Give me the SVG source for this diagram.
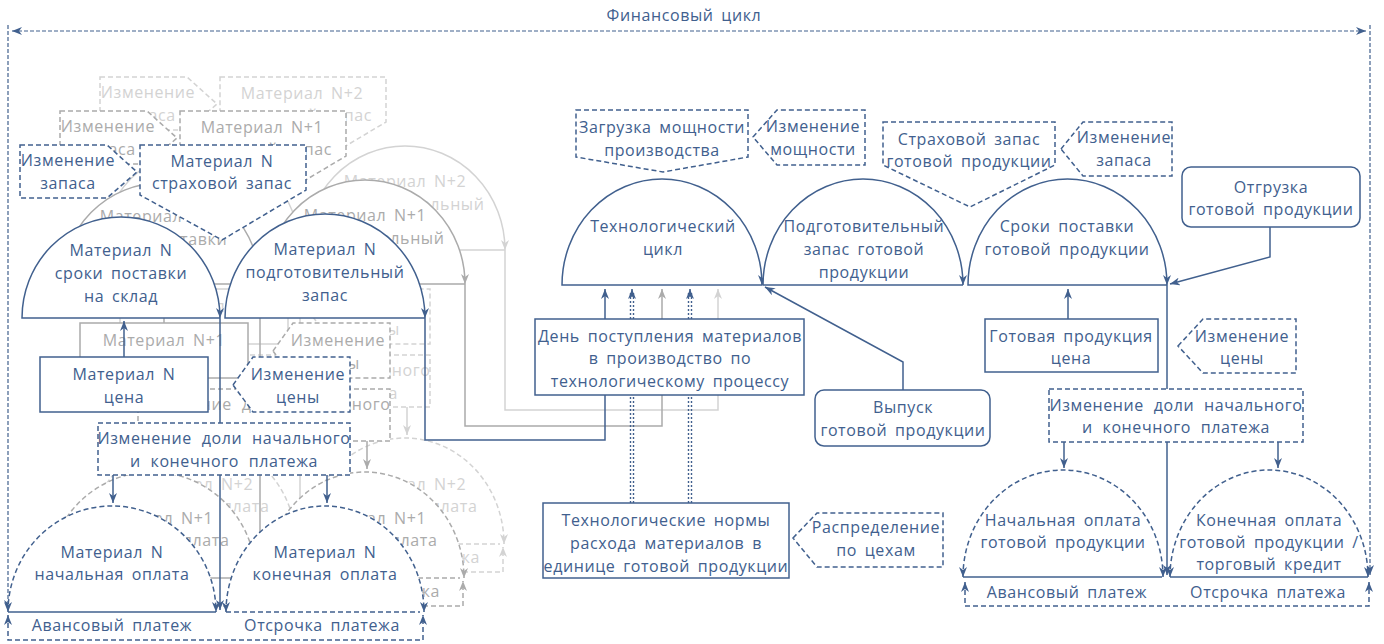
<svg xmlns="http://www.w3.org/2000/svg" width="1384" height="644" viewBox="0 0 1384 644">
<style>
text{font-family:"Open Sans","Noto Sans","DejaVu Sans",sans-serif;font-size:16px;text-anchor:middle;fill:currentColor;letter-spacing:0.6px;word-spacing:3px}
text.w{word-spacing:5px}
.L0{color:#41608e}
.L1{color:#ababab}
.L2{color:#d3d3d3}
.sol{fill:#fff;stroke:currentColor;stroke-width:1.5}
.dsh{fill:#fff;stroke:currentColor;stroke-width:1.5;stroke-dasharray:5 3}
.ln{fill:none;stroke:currentColor;stroke-width:1.5}
.dash{stroke-dasharray:5 3}
.fin{fill:none;stroke:currentColor;stroke-width:1.2;stroke-dasharray:4 2}
.dot{fill:none;stroke:currentColor;stroke-width:1.4;stroke-dasharray:2 2}
.L0 .ar{marker-end:url(#a0)}
.L1 .ar{marker-end:url(#a1)}
.L2 .ar{marker-end:url(#a2)}
.L0 .ar2{marker-start:url(#a0);marker-end:url(#a0)}
.L1 .ar2{marker-start:url(#a1);marker-end:url(#a1)}
.L2 .ar2{marker-start:url(#a2);marker-end:url(#a2)}
</style>
<defs>
<marker id="a0" viewBox="0 0 10 8" refX="10" refY="4" markerWidth="10" markerHeight="8" markerUnits="userSpaceOnUse" orient="auto-start-reverse"><path d="M0,0L10,4L0,8L3,4Z" fill="#41608e"/></marker>
<marker id="a1" viewBox="0 0 10 8" refX="10" refY="4" markerWidth="10" markerHeight="8" markerUnits="userSpaceOnUse" orient="auto-start-reverse"><path d="M0,0L10,4L0,8L3,4Z" fill="#ababab"/></marker>
<marker id="a2" viewBox="0 0 10 8" refX="10" refY="4" markerWidth="10" markerHeight="8" markerUnits="userSpaceOnUse" orient="auto-start-reverse"><path d="M0,0L10,4L0,8L3,4Z" fill="#d3d3d3"/></marker>
</defs>

<g id="financial-cycle" class="L0">
<path class="fin ar2" d="M12,31H1366"/>
<path class="fin ar" d="M8,25V610"/>
<path class="fin ar" d="M1370,25V575"/>
<text x="684" y="21">Финансовый цикл</text>
</g>

<!-- Layer N+2 -->
<g id="layer-n2" class="L2" transform="translate(80,-68)">
<g id="n2-connectors">
<path class="ln ar" d="M124,357V321"/>
<path class="ln ar" d="M220,318V610"/>
<path class="ln ar" d="M113,475V503"/>
<path class="ln ar" d="M327,475V503"/>
<path class="ln dash ar2" d="M8,615V640H423V615"/>
<text x="112" y="631">Авансовый платеж</text>
<text x="322" y="631">Отсрочка платежа</text>
</g>
<g id="n2-izm-zapasa"><polygon class="dsh" points="20,145 107,145 137,172 107,198 20,198"/><text x="68" y="166">Изменение</text><text x="68" y="189">запаса</text></g>
<g id="n2-strah"><polygon class="dsh" points="140,145 306,145 306,190 222,240 140,195"/><text x="222" y="167">Материал N+2</text><text x="222" y="189">страховой запас</text></g>
<g id="n2-sroki"><path class="sol ar" d="M220,318H22A99 101 0 0 1 220,318"/><text x="121" y="256">Материал N+2</text><text x="121" y="279">сроки поставки</text><text x="121" y="302">на склад</text></g>
<g id="n2-podg"><path class="sol ar" d="M425,318H225A100 104 0 0 1 425,318"/><text x="325" y="255">Материал N+2</text><text x="325" y="278">подготовительный</text><text x="325" y="301">запас</text></g>
<g id="n2-cena"><rect class="sol" x="40" y="357" width="168" height="55"/><text x="124" y="380">Материал N+2</text></g>
<g id="n2-izm-ceny"><polygon class="dsh" points="233,385 253,357 350,357 350,412 253,412"/><text x="298" y="380">Изменение</text><text x="298" y="403">цены</text></g>
<g id="n2-doli"><rect class="dsh" x="98" y="423" width="252" height="52"/><text class="w" x="224" y="444">Изменение доли начального</text><text class="w" x="224" y="467">и конечного платежа</text></g>
<g id="n2-nach"><path class="dsh ar2" d="M8,612A104 106 0 0 1 216,612"/><path class="ln" d="M8,612H216"/><text x="112" y="558">Материал N+2</text><text x="112" y="580">начальная оплата</text></g>
<g id="n2-kon"><path class="dsh ar2" d="M226,612A99 106 0 0 1 424,612"/><path class="ln dash" d="M226,612H420"/><text x="325" y="558">Материал N+2</text><text x="325" y="580">конечная оплата</text></g>
</g>

<!-- Layer N+1 -->
<g id="layer-n1" class="L1" transform="translate(40,-34)">
<g id="n1-connectors">
<path class="ln ar" d="M124,357V321"/>
<path class="ln ar" d="M220,318V610"/>
<path class="ln ar" d="M113,475V503"/>
<path class="ln ar" d="M327,475V503"/>
<path class="ln dash ar2" d="M8,615V640H423V615"/>
<text x="322" y="631">Отсрочка платежа</text>
</g>
<g id="n1-izm-zapasa"><polygon class="dsh" points="20,145 107,145 137,172 107,198 20,198"/><text x="68" y="166">Изменение</text><text x="68" y="189">запаса</text></g>
<g id="n1-strah"><polygon class="dsh" points="140,145 306,145 306,190 222,240 140,195"/><text x="222" y="167">Материал N+1</text><text x="222" y="189">страховой запас</text></g>
<g id="n1-sroki"><path class="sol ar" d="M220,318H22A99 101 0 0 1 220,318"/><text x="121" y="256">Материал N+1</text><text x="121" y="279">сроки поставки</text></g>
<g id="n1-podg"><path class="sol ar" d="M425,318H225A100 104 0 0 1 425,318"/><text x="325" y="255">Материал N+1</text><text x="325" y="278">подготовительный</text></g>
<g id="n1-cena"><rect class="sol" x="40" y="357" width="168" height="55"/><text x="124" y="380">Материал N+1</text></g>
<g id="n1-izm-ceny"><polygon class="dsh" points="233,385 253,357 350,357 350,412 253,412"/><text x="298" y="380">Изменение</text><text x="298" y="403">цены</text></g>
<g id="n1-doli"><rect class="dsh" x="98" y="423" width="252" height="52"/><text class="w" x="224" y="444">Изменение доли начального</text></g>
<g id="n1-nach"><path class="dsh ar2" d="M8,612A104 106 0 0 1 216,612"/><path class="ln" d="M8,612H216"/><text x="112" y="558">Материал N+1</text><text x="112" y="580">начальная оплата</text></g>
<g id="n1-kon"><path class="dsh ar2" d="M226,612A99 106 0 0 1 424,612"/><path class="ln dash" d="M226,612H420"/><text x="325" y="558">Материал N+1</text><text x="325" y="580">конечная оплата</text></g>
</g>

<!-- Layer N -->
<g id="layer-n" class="L0">
<g id="n-connectors">
<path class="ln ar" d="M124,357V321"/>
<path class="ln ar" d="M220,318V610"/>
<path class="ln ar" d="M113,475V503"/>
<path class="ln ar" d="M327,475V503"/>
<path class="ln dash ar2" d="M8,615V640H423V615"/>
<text x="112" y="631">Авансовый платеж</text>
<text x="322" y="631">Отсрочка платежа</text>
</g>
<g id="n-izm-zapasa"><polygon class="dsh" points="20,145 107,145 137,172 107,198 20,198"/><text x="68" y="166">Изменение</text><text x="68" y="189">запаса</text></g>
<g id="n-strah"><polygon class="dsh" points="140,145 306,145 306,190 222,240 140,195"/><text x="222" y="167">Материал N</text><text x="222" y="189">страховой запас</text></g>
<g id="n-sroki"><path class="sol ar" d="M220,318H22A99 101 0 0 1 220,318"/><text x="121" y="256">Материал N</text><text x="121" y="279">сроки поставки</text><text x="121" y="302">на склад</text></g>
<g id="n-podg"><path class="sol ar" d="M425,318H225A100 104 0 0 1 425,318"/><text x="325" y="255">Материал N</text><text x="325" y="278">подготовительный</text><text x="325" y="301">запас</text></g>
<g id="n-cena"><rect class="sol" x="40" y="357" width="168" height="55"/><text x="124" y="380">Материал N</text><text x="124" y="403">цена</text></g>
<g id="n-izm-ceny"><polygon class="dsh" points="233,385 253,357 350,357 350,412 253,412"/><text x="298" y="380">Изменение</text><text x="298" y="403">цены</text></g>
<g id="n-doli"><rect class="dsh" x="98" y="423" width="252" height="52"/><text class="w" x="224" y="444">Изменение доли начального</text><text class="w" x="224" y="467">и конечного платежа</text></g>
<g id="n-nach"><path class="dsh ar2" d="M8,612A104 106 0 0 1 216,612"/><path class="ln" d="M8,612H216"/><text x="112" y="558">Материал N</text><text x="112" y="580">начальная оплата</text></g>
<g id="n-kon"><path class="dsh ar2" d="M226,612A99 106 0 0 1 424,612"/><path class="ln dash" d="M226,612H420"/><text x="325" y="558">Материал N</text><text x="325" y="580">конечная оплата</text></g>
</g>

<!-- Connectors to technological cycle and right part -->
<g id="connectors" class="L0">
<path class="ln ar" style="stroke:#d3d3d3;marker-end:url(#a2)" d="M505,250V410H718V289"/>
<path class="ln ar" style="stroke:#ababab;marker-end:url(#a1)" d="M465,284V426H662V289"/>
<path class="ln ar" d="M425,318V440H605V289"/>
<path class="dot" d="M630.5,503V293M633.5,503V293"/>
<path class="ln ar" d="M632,297V289"/>
<path class="dot" d="M688.5,503V293M691.5,503V293"/>
<path class="ln ar" d="M690,297V289"/>
<path class="ln ar" d="M903,390V362L765,287"/>
<path class="ln ar" d="M1270,227V257L1170,284"/>
<path class="ln ar" d="M1068,319V289"/>
<path class="ln ar" d="M1167,285V575"/>
<path class="ln ar" d="M1064,442V468"/>
<path class="ln ar" d="M1278,442V468"/>
<path class="ln dash ar2" d="M965,582V606H1369V582"/>
<text x="1067" y="598">Авансовый платеж</text>
<text x="1268" y="598">Отсрочка платежа</text>
</g>

<g id="main-nodes" class="L0">
<g id="tech-cycle"><path class="sol ar" d="M762,285H562A100 106 0 0 1 762,285"/><text x="663" y="232">Технологический</text><text x="663" y="255">цикл</text></g>
<g id="gp-podg"><path class="sol ar" d="M963,285H763A100 106 0 0 1 963,285"/><text x="864" y="232">Подготовительный</text><text x="864" y="255">запас готовой</text><text x="864" y="278">продукции</text></g>
<g id="gp-sroki"><path class="sol ar" d="M1167,285H968A99.5 106 0 0 1 1167,285"/><text x="1067" y="232">Сроки поставки</text><text x="1067" y="255">готовой продукции</text></g>
<g id="zagruzka"><polygon class="dsh" points="576,110 748,110 748,157 663,172 576,157"/><text x="662" y="133">Загрузка мощности</text><text x="662" y="156">производства</text></g>
<g id="izm-moshch"><polygon class="dsh" points="753,137 777,110 865,110 865,165 777,165"/><text x="813" y="132">Изменение</text><text x="813" y="155">мощности</text></g>
<g id="strah-gp"><polygon class="dsh" points="883,122 1055,122 1055,165 970,207 883,165"/><text x="969" y="145">Страховой запас</text><text x="969" y="167">готовой продукции</text></g>
<g id="izm-zapasa-gp"><polygon class="dsh" points="1061,149 1083,122 1172,122 1172,176 1083,176"/><text x="1124" y="143">Изменение</text><text x="1124" y="166">запаса</text></g>
<g id="otgruzka"><rect class="sol" x="1182" y="167" width="178" height="60" rx="9"/><text x="1271" y="193">Отгрузка</text><text x="1271" y="215">готовой продукции</text></g>
<g id="den-postupleniya"><rect class="sol" x="535" y="319" width="269" height="76"/><text x="670" y="342">День поступления материалов</text><text x="670" y="364">в производство по</text><text x="670" y="387">технологическому процессу</text></g>
<g id="vypusk"><rect class="sol" x="815" y="390" width="175" height="56" rx="9"/><text x="903" y="413">Выпуск</text><text x="903" y="436">готовой продукции</text></g>
<g id="gp-cena"><rect class="sol" x="985" y="319" width="173" height="53"/><text x="1071" y="342">Готовая продукция</text><text x="1071" y="364">цена</text></g>
<g id="izm-ceny-gp"><polygon class="dsh" points="1178,346 1203,319 1296,319 1296,373 1203,373"/><text x="1242" y="342">Изменение</text><text x="1242" y="364">цены</text></g>
<g id="izm-doli-gp"><rect class="dsh" x="1049" y="389" width="254" height="53"/><text class="w" x="1176" y="411">Изменение доли начального</text><text class="w" x="1176" y="433">и конечного платежа</text></g>
<g id="nach-gp"><path class="dsh ar2" d="M963,577A100 107 0 0 1 1163,577"/><path class="ln" d="M963,577H1162"/><text x="1063" y="526">Начальная оплата</text><text x="1063" y="548">готовой продукции</text></g>
<g id="kon-gp"><path class="dsh ar2" d="M1170,577A99 107 0 0 1 1368,577"/><path class="ln" d="M1170,577H1368"/><text x="1269" y="526">Конечная оплата</text><text x="1269" y="548">готовой продукции /</text><text x="1269" y="570">торговый кредит</text></g>
<g id="normy"><rect class="sol" x="543" y="503" width="246" height="75"/><text x="666" y="526">Технологические нормы</text><text x="666" y="549">расхода материалов в</text><text x="666" y="572">единице готовой продукции</text></g>
<g id="raspredelenie"><polygon class="dsh" points="793,538 817,513 943,513 943,567 817,567"/><text x="876" y="533">Распределение</text><text x="876" y="556">по цехам</text></g>
</g>
</svg>
